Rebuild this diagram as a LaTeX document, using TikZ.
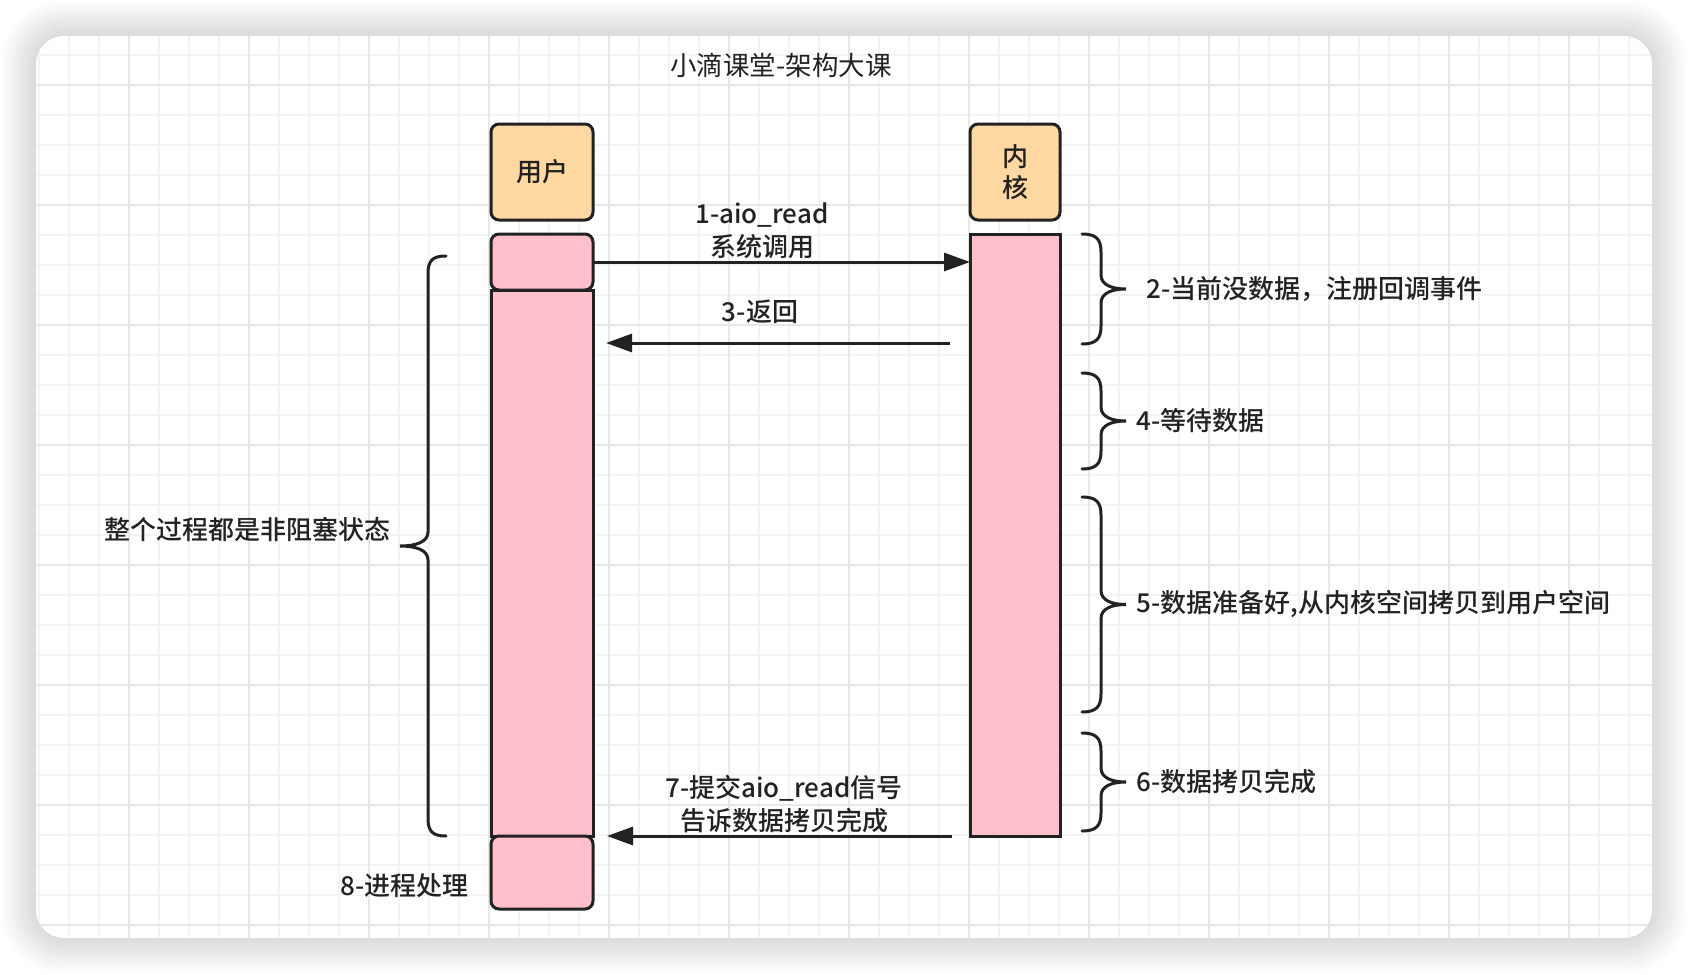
\documentclass[tikz,border=0pt]{standalone}
\usepackage{fontspec}
\setmainfont{Noto Sans CJK SC}[BoldFont={Noto Sans CJK SC Medium}]
\usetikzlibrary{arrows.meta,positioning,calc}
\definecolor{headfill}{RGB}{255,217,161}
\definecolor{lifefill}{RGB}{255,192,203}
\definecolor{inkdark}{RGB}{34,34,34}
\definecolor{gridminor}{RGB}{243,243,243}
\definecolor{gridmajor}{RGB}{231,231,231}
% curly brace opening to the left: x of ends, top, bottom, tip name
\newcommand{\curlyR}[4]{%
  \pgfmathsetmacro{\ym}{(#2+#3)/2}%
  \draw[brc] (#1,#2) .. controls (#1+14,#2) and (#1+19,#2+5) .. (#1+19,#2+18)
    -- (#1+19,\ym-14) .. controls (#1+19,\ym-4) and (#1+30,\ym) .. (#1+44,\ym)
    .. controls (#1+30,\ym) and (#1+19,\ym+4) .. (#1+19,\ym+14)
    -- (#1+19,#3-18) .. controls (#1+19,#3-5) and (#1+14,#3) .. (#1,#3);
  \coordinate (#4) at (#1+44,\ym);}
% curly brace opening to the right
\newcommand{\curlyL}[4]{%
  \pgfmathsetmacro{\ym}{(#2+#3)/2}%
  \draw[brc] (#1,#2) .. controls (#1-14,#2) and (#1-18,#2+5) .. (#1-18,#2+18)
    -- (#1-18,\ym-14) .. controls (#1-18,\ym-4) and (#1-30,\ym) .. (#1-46,\ym)
    .. controls (#1-30,\ym) and (#1-18,\ym+4) .. (#1-18,\ym+14)
    -- (#1-18,#3-18) .. controls (#1-18,#3-5) and (#1-14,#3) .. (#1,#3);
  \coordinate (#4) at (#1-46,\ym);}

\begin{document}
\begin{tikzpicture}[
  x=1pt, y=-1pt,
  head/.style={draw=inkdark, line width=3pt, rounded corners=8pt, fill=headfill, outer sep=0pt,
    minimum height=96pt, align=center, text=inkdark, font=\fontsize{26}{31}\selectfont\bfseries},
  life/.style={draw=inkdark, line width=3pt, fill=lifefill, outer sep=0pt, inner sep=0pt, minimum width=102pt},
  lbl/.style={inner sep=0pt, text=inkdark, align=center, font=\fontsize{26}{33}\selectfont\bfseries},
  arr/.style={draw=inkdark, line width=3pt, -{Triangle[length=26pt, width=18pt]}},
  brc/.style={draw=inkdark, line width=3pt, line cap=round}
]
\useasboundingbox (0,0) rectangle (1688,974);
\fill[white] (0,0) rectangle (1688,974);
% card with soft shadow
\foreach \s [evaluate=\s as \r using 28+\s] in {1,...,36}
  \fill[black, opacity=0.0045, rounded corners=\r pt] (36-\s,36-\s) rectangle (1652+\s,938+\s);
\fill[white, rounded corners=28pt] (36,36) rectangle (1652,938);
\begin{scope}
  \clip[rounded corners=28pt] (36,36) rectangle (1652,938);
  \foreach \gx in {39,69,...,1659} \draw[gridminor, line width=2pt] (\gx,0) -- (\gx,974);
  \foreach \gy in {25,55,...,955} \draw[gridminor, line width=2pt] (0,\gy) -- (1688,\gy);
  \foreach \gx in {129,249,...,1569} \draw[gridmajor, line width=2.5pt] (\gx,0) -- (\gx,974);
  \foreach \gy in {85,205,...,925} \draw[gridmajor, line width=2.5pt] (0,\gy) -- (1688,\gy);
\end{scope}

\node[text=inkdark, font=\fontsize{26.5}{30}\selectfont] (title) at (781,65) {小滴课堂-架构大课};

% lifelines
\node[head, minimum width=102pt] (uhead) at (542,172) {用户};
\node[head, minimum width=90pt] (khead) at (1015,172) {内\\核};
\node[life, rounded corners=8pt, minimum height=56pt, below=14pt of uhead] (ucall) {};
\node[life, minimum height=546pt, below=0pt of ucall] (uwait) {};
\node[life, rounded corners=8pt, minimum height=73pt, below=0pt of uwait] (uproc) {};
\node[life, minimum width=90pt, minimum height=602pt, below=14pt of khead] (kwork) {};

% messages
\coordinate (ret) at (0,343);
\draw[arr] (ucall.east) -- (ucall.east -| kwork.west);
\draw[arr, shorten <=20pt, shorten >=13pt] (kwork.west |- ret) -- (uwait.east |- ret);
\draw[arr, shorten <=18pt, shorten >=14pt] (kwork.south west) -- (uwait.south east);
\node[lbl] (m1) at (762,231) {1-aio\_read\\系统调用};
\node[lbl] (m3) at (760,312) {3-返回};
\node[lbl] (m7) at (784,804) {7-提交aio\_read信号\\告诉数据拷贝完成};

% kernel phases
\curlyR{1082}{234}{344}{b2}
\curlyR{1082}{373}{469}{b4}
\curlyR{1082}{497}{712}{b5}
\curlyR{1082}{733}{831}{b6}
\node[lbl, right=20pt of b2] (s2) {2-当前没数据，注册回调事件};
\node[lbl, right=10pt of b4] (s4) {4-等待数据};
\node[lbl, right=10pt of b5] (s5) {5-数据准备好,从内核空间拷贝到用户空间};
\node[lbl, right=10pt of b6] (s6) {6-数据拷贝完成};

% user side
\curlyL{446}{256}{836}{ball}
\node[lbl, anchor=east] (sall) at ($(ball)+(-9,-16)$) {整个过程都是非阻塞状态};
\node[lbl, anchor=east] (s8) at ($(uproc.west)+(-22,13)$) {8-进程处理};
\end{tikzpicture}
\end{document}
